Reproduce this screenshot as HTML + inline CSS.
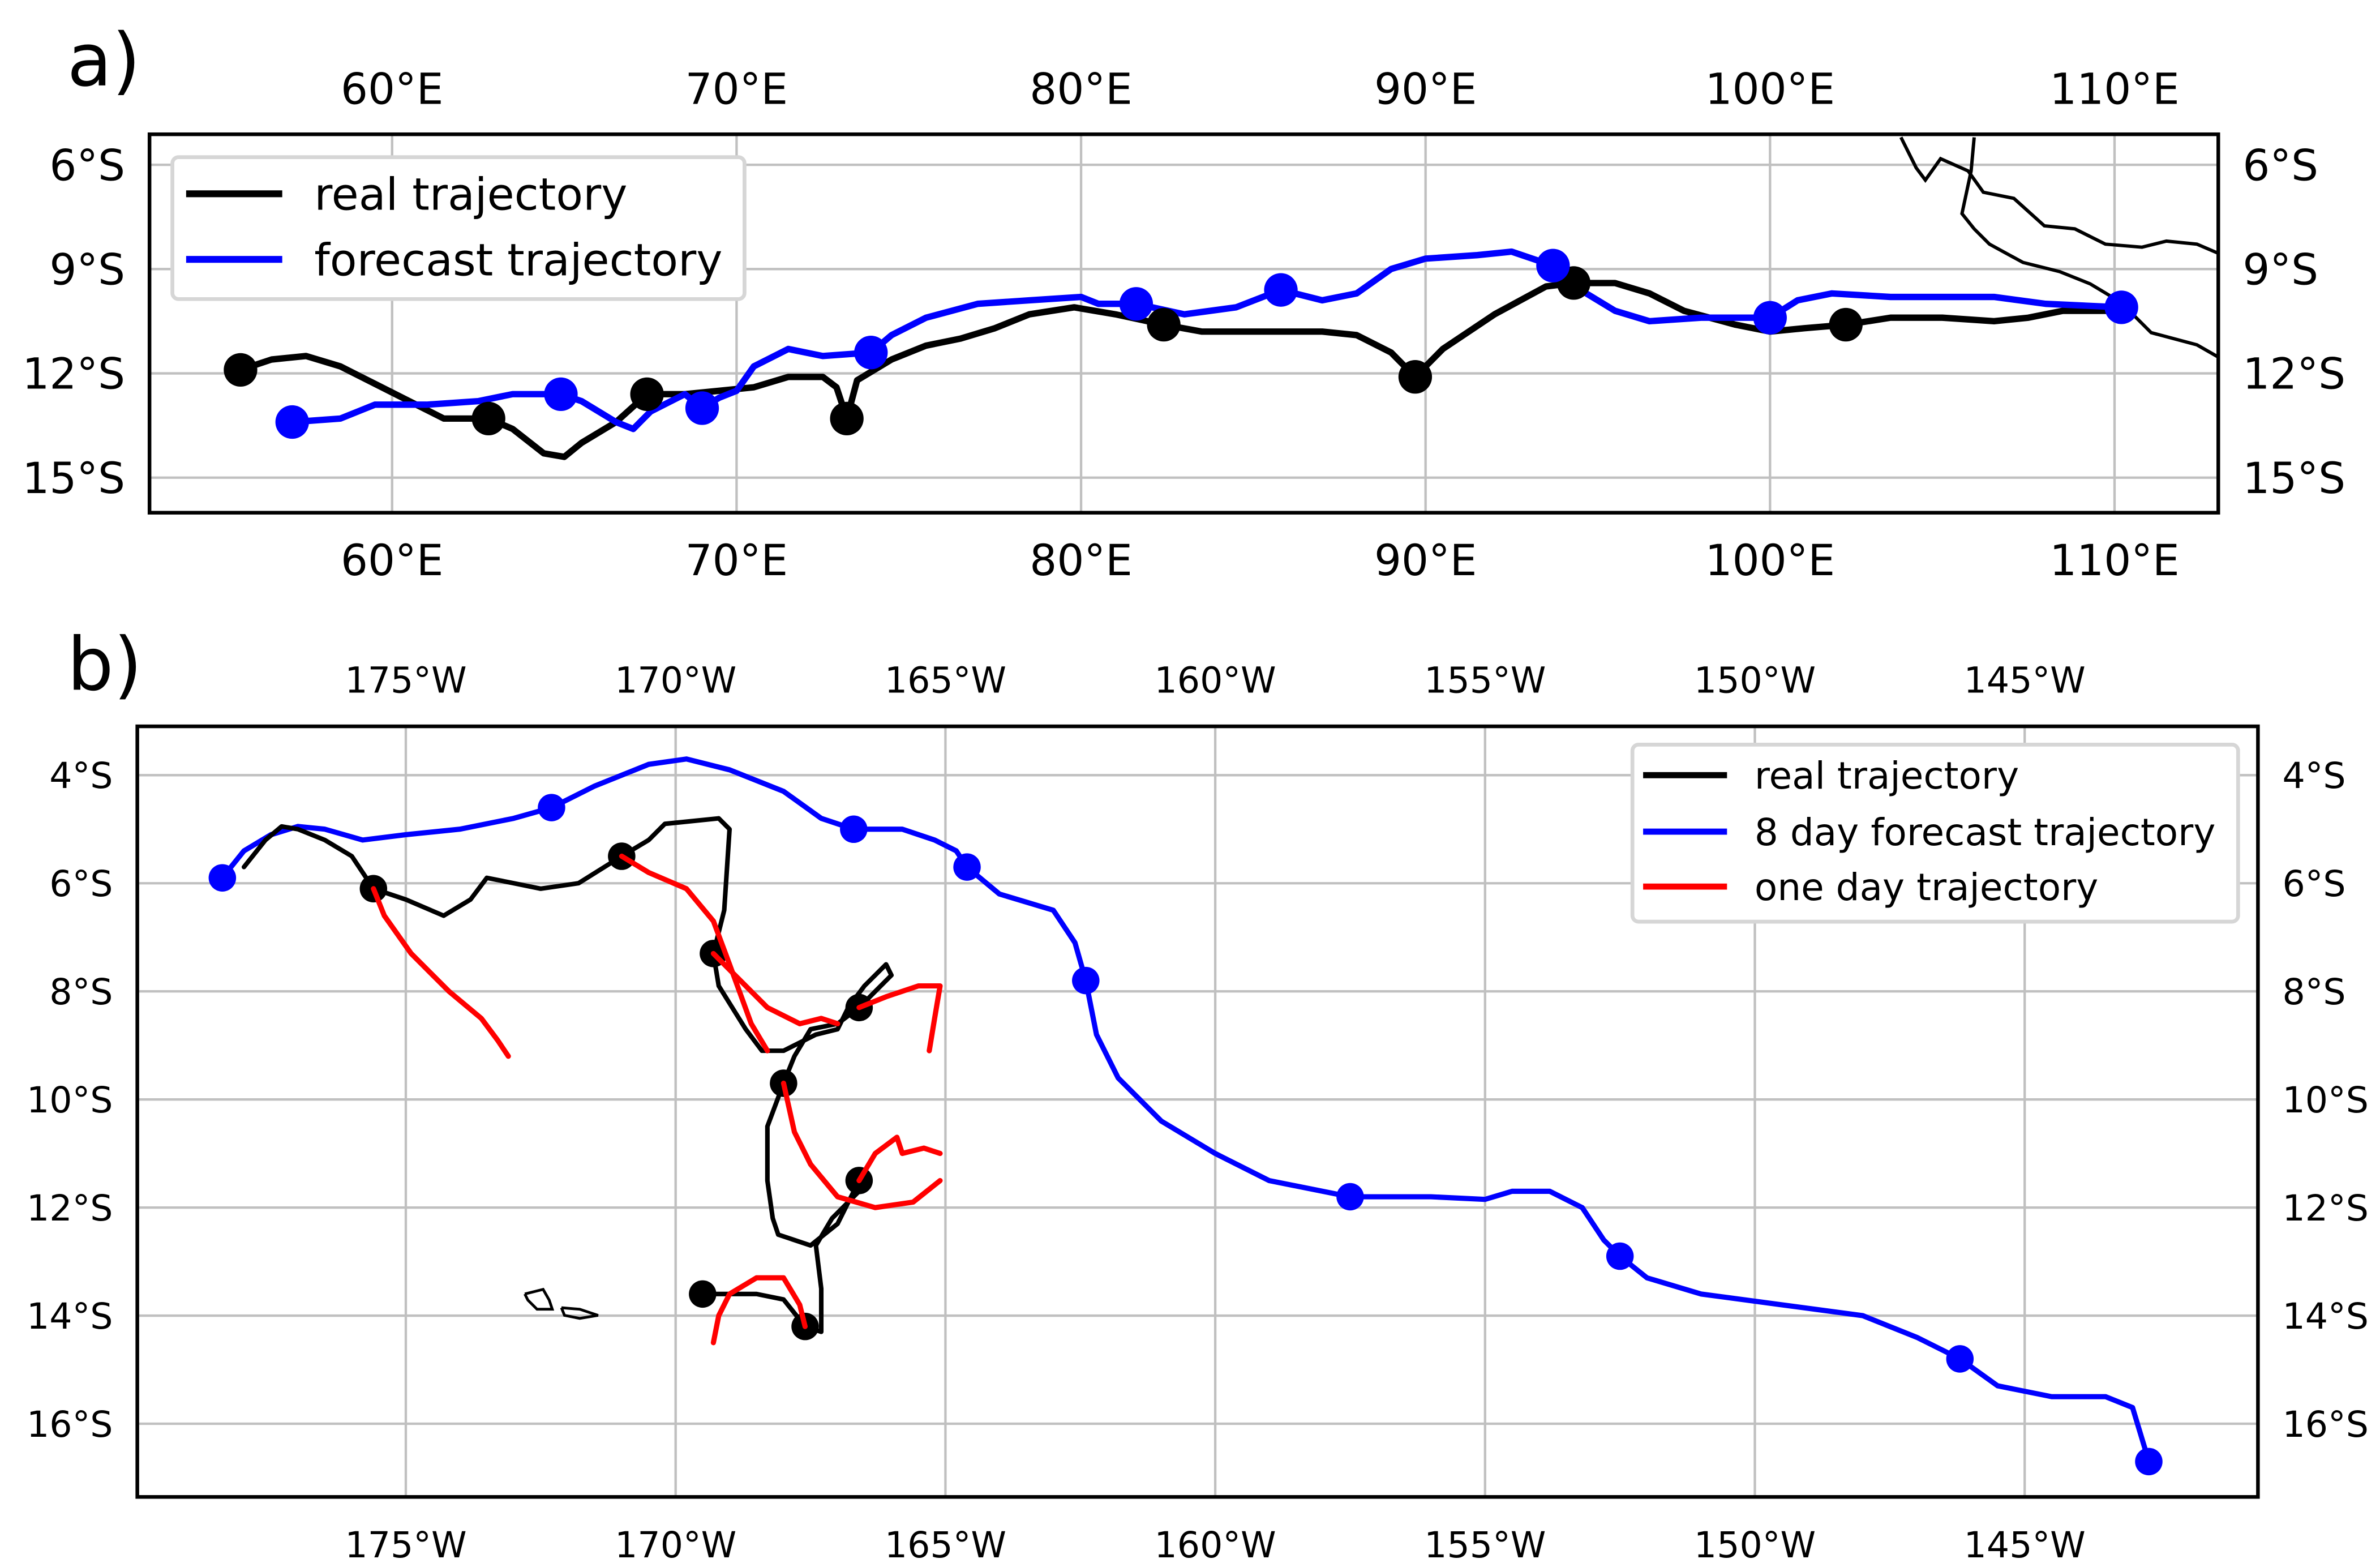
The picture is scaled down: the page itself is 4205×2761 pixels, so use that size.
<!DOCTYPE html>
<html><head><meta charset="utf-8"><style>
html,body{margin:0;padding:0;background:#fff;}
svg{display:block;font-family:"DejaVu Sans","Liberation Sans",sans-serif;}
</style></head><body>
<svg id="fig" width="4205" height="2761" viewBox="0 0 1560 1024.3" preserveAspectRatio="none" xmlns="http://www.w3.org/2000/svg"></svg>
<script>
// ---------- Panel a data (lon E, lat) ----------
const aLonTicks=[60,70,80,90,100,110];
const aLatTicks=[-6,-9,-12,-15];
const aRealLon=[55.6,56.5,57.5,58.5,59.5,60.5,61.5,62.8,63.5,64.4,65.0,65.5,66.5,67.4,68.5,69.5,70.5,71.5,72.5,72.9,73.2,73.5,74.5,75.5,76.5,77.5,78.5,79.8,81,82.4,83.5,85,87,88,89,89.7,90.5,92,93.5,94.3,95.5,96.5,97.5,99,100,101,102.2,103.5,105,106.5,107.5,108.5,110.2];
const aRealLat=[-11.9,-11.6,-11.5,-11.8,-12.3,-12.8,-13.3,-13.3,-13.6,-14.3,-14.4,-14.0,-13.4,-12.6,-12.6,-12.5,-12.4,-12.1,-12.1,-12.4,-13.3,-12.2,-11.6,-11.2,-11.0,-10.7,-10.3,-10.1,-10.3,-10.6,-10.8,-10.8,-10.8,-10.9,-11.4,-12.1,-11.3,-10.3,-9.5,-9.4,-9.4,-9.7,-10.2,-10.6,-10.8,-10.7,-10.6,-10.4,-10.4,-10.5,-10.4,-10.2,-10.2];
const aRealDotLon=[55.6,62.8,67.4,73.2,82.4,89.7,94.3,102.2];
const aRealDotLat=[-11.9,-13.3,-12.6,-13.3,-10.6,-12.1,-9.4,-10.6];
const aFcLon=[57.1,58.5,59.5,61,62.5,63.5,64.9,65.5,66.5,67,67.5,68.5,69.0,69.5,70,70.5,71.5,72.5,73.9,74.5,75.5,77,78.5,80,80.5,81.6,83,84.5,85.8,87,88,89,90,91.5,92.5,93.7,94.5,95.5,96.5,98,100,100.8,101.8,103.5,106.5,108,110.2];
const aFcLat=[-13.4,-13.3,-12.9,-12.9,-12.8,-12.6,-12.6,-12.8,-13.4,-13.6,-13.1,-12.6,-13.0,-12.7,-12.5,-11.8,-11.3,-11.5,-11.4,-10.9,-10.4,-10.0,-9.9,-9.8,-10.0,-10.0,-10.3,-10.1,-9.6,-9.9,-9.7,-9.0,-8.7,-8.6,-8.5,-8.9,-9.6,-10.2,-10.5,-10.4,-10.4,-9.9,-9.7,-9.8,-9.8,-10.0,-10.1];
const aFcDotLon=[57.1,64.9,69.0,73.9,81.6,85.8,93.7,100,110.2];
const aFcDotLat=[-13.4,-12.6,-13.0,-11.4,-10.0,-9.6,-8.9,-10.4,-10.1];
// ---------- Panel b data (lon, negative = W) ----------
const bLonTicks=[-175,-170,-165,-160,-155,-150,-145];
const bLatTicks=[-4,-6,-8,-10,-12,-14,-16];
const bRealLon=[-178.0,-177.6,-177.3,-177,-176.5,-176,-175.6,-175,-174.3,-173.8,-173.5,-173,-172.5,-171.8,-171,-170.5,-170.2,-169.2,-169.0,-169.1,-169.3,-169.2,-168.7,-168.4,-168,-167.4,-167,-166.8,-166.5,-166.1,-166.0,-166.3,-166.6,-167.0,-167.5,-167.8,-168.0,-168.3,-168.3,-168.2,-168.1,-167.5,-167,-166.6,-166.5,-166.8,-167.1,-167.4,-167.3,-167.3,-167.6,-168,-168.5,-169.5];
const bRealLat=[-5.7,-5.2,-4.95,-5.0,-5.2,-5.5,-6.1,-6.3,-6.6,-6.3,-5.9,-6.0,-6.1,-6.0,-5.5,-5.2,-4.9,-4.8,-5.0,-6.5,-7.3,-7.9,-8.7,-9.1,-9.1,-8.8,-8.7,-8.3,-7.9,-7.5,-7.7,-8.0,-8.3,-8.6,-8.7,-9.2,-9.7,-10.5,-11.5,-12.2,-12.5,-12.7,-12.3,-11.5,-11.6,-11.9,-12.2,-12.7,-13.5,-14.3,-14.2,-13.7,-13.6,-13.6];
const bRealDotLon=[-175.6,-171,-169.3,-166.6,-168,-166.6,-167.6,-169.5];
const bRealDotLat=[-6.1,-5.5,-7.3,-8.3,-9.7,-11.5,-14.2,-13.6];
const bFcLon=[-178.4,-178,-177.5,-177,-176.5,-175.8,-175,-174,-173,-172.3,-171.5,-170.5,-169.8,-169,-168,-167.3,-166.7,-165.8,-165.2,-164.8,-164.6,-164,-163,-162.6,-162.4,-162.2,-161.8,-161,-160,-159,-157.5,-156,-155,-154.5,-153.8,-153.2,-152.8,-152.5,-152,-151,-149.5,-148,-147,-146.2,-145.5,-144.5,-143.5,-143,-142.7];
const bFcLat=[-5.9,-5.4,-5.1,-4.95,-5.0,-5.2,-5.1,-5.0,-4.8,-4.6,-4.2,-3.8,-3.7,-3.9,-4.3,-4.8,-5.0,-5.0,-5.2,-5.4,-5.7,-6.2,-6.5,-7.1,-7.8,-8.8,-9.6,-10.4,-11.0,-11.5,-11.8,-11.8,-11.85,-11.7,-11.7,-12.0,-12.6,-12.9,-13.3,-13.6,-13.8,-14.0,-14.4,-14.8,-15.3,-15.5,-15.5,-15.7,-16.7];
const bFcDotLon=[-178.4,-172.3,-166.7,-164.6,-162.4,-157.5,-152.5,-146.2,-142.7];
const bFcDotLat=[-5.9,-4.6,-5.0,-5.7,-7.8,-11.8,-12.9,-14.8,-16.7];
const bRed1Lon=[-175.6,-175.4,-174.9,-174.2,-173.6,-173.3,-173.1], bRed1Lat=[-6.1,-6.6,-7.3,-8.0,-8.5,-8.9,-9.2];
const bRed2Lon=[-171,-170.5,-169.8,-169.3,-169,-168.6,-168.3], bRed2Lat=[-5.5,-5.8,-6.1,-6.7,-7.5,-8.6,-9.1];
const bRed3Lon=[-169.3,-168.8,-168.3,-167.7,-167.3,-167.0], bRed3Lat=[-7.3,-7.8,-8.3,-8.6,-8.5,-8.6];
const bRed4Lon=[-166.6,-166.1,-165.5,-165.1,-165.2,-165.3], bRed4Lat=[-8.3,-8.1,-7.9,-7.9,-8.5,-9.1];
const bRed5Lon=[-168,-167.8,-167.5,-167,-166.3,-165.6,-165.1], bRed5Lat=[-9.7,-10.6,-11.2,-11.8,-12.0,-11.9,-11.5];
const bRed6Lon=[-166.6,-166.3,-165.9,-165.8,-165.4,-165.1], bRed6Lat=[-11.5,-11.0,-10.7,-11.0,-10.9,-11.0];
const bRed7Lon=[-167.6,-167.7,-168,-168.5,-169,-169.2,-169.3], bRed7Lat=[-14.2,-13.8,-13.3,-13.3,-13.6,-14.0,-14.5];

const NS="http://www.w3.org/2000/svg";
const svg=document.getElementById('fig');
function mk(tag,attrs,parent){const e=document.createElementNS(NS,tag);for(const k in attrs)e.setAttribute(k,attrs[k]);(parent||svg).appendChild(e);return e;}

const A={x0:98,x1:1454,y0:88,y1:336, lx:(l)=>257+(l-60)*22.58, ly:(t)=>108+(-6-t)*22.78};
const B={x0:90,x1:1480,y0:476,y1:981, lx:(l)=>266+(l+175)*35.37, ly:(t)=>508+(-4-t)*35.42};

function pts(ax,lons,lats){return lons.map((l,i)=>ax.lx(l).toFixed(1)+','+ax.ly(lats[i]).toFixed(1)).join(' ');}

function panel(ax,lonT,latT,fs,lonFmt,g,gap){
  const grid=mk('g',{},g);
  
  
  lonT.forEach(l=>{const x=ax.lx(l);mk('line',{x1:x,x2:x,y1:ax.y0,y2:ax.y1,stroke:'#c0c0c0','stroke-width':1.6},grid);
    [ax.y0-gap,ax.y1+gap+fs*0.75].forEach((y,k)=>{const t=mk('text',{x:x,y:y,'font-size':fs,'text-anchor':'middle'},g);t.textContent=lonFmt(l);
      
      });});
  latT.forEach(t=>{const y=ax.ly(t);mk('line',{x1:ax.x0,x2:ax.x1,y1:y,y2:y,stroke:'#c0c0c0','stroke-width':1.6},grid);
    const s=Math.abs(t)+'°S';
    const a=mk('text',{x:ax.x0-16,y:y+fs*0.36,'font-size':fs,'text-anchor':'end'},g);a.textContent=s;
    
    
    const b=mk('text',{x:ax.x1+16,y:y+fs*0.36,'font-size':fs,'text-anchor':'start'},g);b.textContent=s;
    
    });
}
function line(ax,lons,lats,color,w,name,g){const p=mk('polyline',{points:pts(ax,lons,lats),fill:'none',stroke:color,'stroke-width':w,'stroke-linejoin':'round','stroke-linecap':'round'},g);
  
  }
function dots(ax,lons,lats,color,r,name,g){lons.forEach((l,i)=>{const c=mk('circle',{cx:ax.lx(l),cy:ax.ly(lats[i]),r:r,fill:color},g);
  
  });}
function frame(ax,g){const r=mk('rect',{x:ax.x0,y:ax.y0,width:ax.x1-ax.x0,height:ax.y1-ax.y0,fill:'none',stroke:'#000','stroke-width':2.4},g);
  
  }
function legend(x,y,w,h,items,fs,lx1,lx2,tx,g,lw){
  const lg=mk('g',{},g);
  
  
  mk('rect',{x:x,y:y,width:w,height:h,rx:4,fill:'#fff',stroke:'#d6d6d6','stroke-width':2.5},lg);
  items.forEach(it=>{mk('line',{x1:lx1,x2:lx2,y1:it[2],y2:it[2],stroke:it[1],'stroke-width':lw},lg);
    const t=mk('text',{x:tx,y:it[2]+fs*0.36,'font-size':fs},lg);t.textContent=it[0];
    
    });
}

// ---- Panel a ----
const ga=mk('g',{});


const la=mk('text',{x:44,y:56,'font-size':48},ga);la.textContent='a)';


panel(A,aLonTicks,aLatTicks,28,l=>l+'°E',ga,20);
mk('polyline',{points:'1246,90 1256,110 1262,118 1272,104 1290,112 1300,126 1320,130 1340,148 1360,150 1380,160 1404,162 1420,158 1440,160 1454,166',fill:'none',stroke:'#000','stroke-width':2.2},ga);
mk('polyline',{points:'1294,90 1292,112 1286,140 1294,150 1304,160 1326,172 1350,178 1370,186 1390,198 1410,218 1440,226 1454,234',fill:'none',stroke:'#000','stroke-width':2.2},ga);
line(A,aRealLon,aRealLat,'#000',4.2,'real-trajectory',ga);
line(A,aFcLon,aFcLat,'#0000ff',4.2,'forecast-trajectory',ga);
dots(A,aRealDotLon,aRealDotLat,'#000',11,'real-point',ga);
dots(A,aFcDotLon,aFcDotLat,'#0000ff',11,'forecast-point',ga);
frame(A,ga);
legend(113,103,375,93,[['real trajectory','#000',127],['forecast trajectory','#0000ff',170]],29,122,185,206,ga,4.5);

// ---- Panel b ----
const gb=mk('g',{});


const lb=mk('text',{x:44,y:452,'font-size':48},gb);lb.textContent='b)';


panel(B,bLonTicks,bLatTicks,23.5,l=>Math.abs(l)+'°W',gb,22);
mk('polyline',{points:'344,848 356,845 360,852 362,858 352,858 346,852 344,848',fill:'none',stroke:'#000','stroke-width':1.8},gb);
mk('polyline',{points:'368,857 380,858 392,862 380,864 370,862 368,857',fill:'none',stroke:'#000','stroke-width':1.8},gb);
line(B,bFcLon,bFcLat,'#0000ff',3.4,'8-day-forecast-trajectory',gb);
line(B,bRealLon,bRealLat,'#000',3,'real-trajectory',gb);
dots(B,bRealDotLon,bRealDotLat,'#000',9,'real-point',gb);
[[bRed1Lon,bRed1Lat],[bRed2Lon,bRed2Lat],[bRed3Lon,bRed3Lat],[bRed4Lon,bRed4Lat],[bRed5Lon,bRed5Lat],[bRed6Lon,bRed6Lat],[bRed7Lon,bRed7Lat]].forEach(r=>line(B,r[0],r[1],'#ff0000',3.4,'one-day-trajectory',gb));
dots(B,bFcDotLon,bFcDotLat,'#0000ff',9,'forecast-point',gb);
frame(B,gb);
legend(1070,488,397,116,[['real trajectory','#000',508],['8 day forecast trajectory','#0000ff',545],['one day trajectory','#ff0000',581]],24.5,1077,1132,1150,gb,4);
</script>
</body></html>
